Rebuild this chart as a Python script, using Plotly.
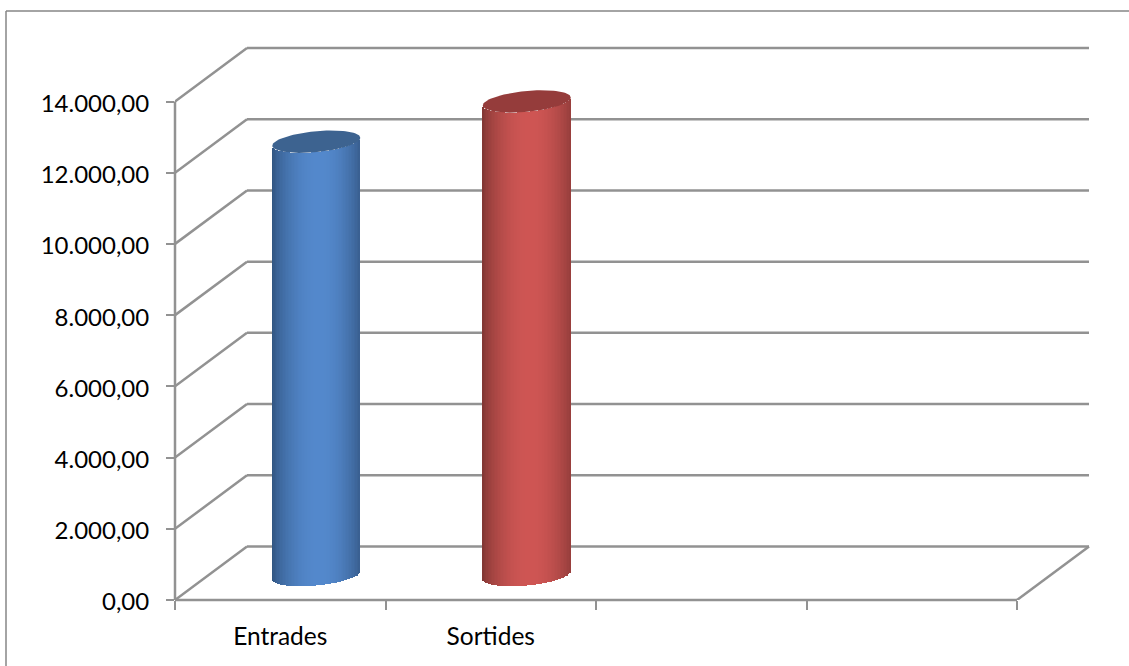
import numpy as np
import plotly.graph_objects as go

categories = ["Entrades", "Sortides"]
values = [12170, 13300]
tick_values = [0, 2000, 4000, 6000, 8000, 10000, 12000, 14000]
tick_labels = ["0,00", "2.000,00", "4.000,00", "6.000,00", "8.000,00", "10.000,00", "12.000,00", "14.000,00"]

# style
W, H = 1129, 666
X0, X_CAT = 175, 210.5          # px of axis start, px per category
Y0, Y_UNIT = 600, 498.5 / 14000 # px of zero, px per value unit
P_R, P_T = 1098, 40             # plot area limits
GRID = "#929292"
DX = 72 / X_CAT                 # wall depth (data units)
DY = 53.5 / Y_UNIT
CX = 0.5 + 36 / X_CAT           # bar centre offset in the category
BASE = 25 / Y_UNIT              # bar base offset
RX = 44 / X_CAT
ELL_B = 10.5 / Y_UNIT
ELL_T = 4 / Y_UNIT
styles = [
    dict(edgeL=(47, 82, 125), edgeR=(42, 72, 110), mid=(84, 137, 205), top="#3d6390"),
    dict(edgeL=(125, 53, 50), edgeR=(120, 50, 48), mid=(207, 86, 84), top="#953c3b"),
]

fig = go.Figure()
shapes = []


def line(x0, y0, x1, y1, xref="x", yref="y", color=GRID, width=2.5):
    shapes.append(dict(type="line", x0=x0, y0=y0, x1=x1, y1=y1, xref=xref, yref=yref,
                       layer="below", line=dict(color=color, width=width)))


for g in tick_values:
    line(DX, g + DY, 4 + DX, g + DY)
    line(0, g, DX, g + DY)
line(4, 0, 4 + DX, DY)
line(0, 0, 4, 0, yref="paper")
line(0, 0, 0, 14000, xref="paper")
# chart frame
shapes.append(dict(type="line", xref="paper", yref="paper", x0=(6 - X0) / (P_R - X0), x1=(W - X0) / (P_R - X0),
                   y0=(Y0 - 11) / (Y0 - P_T), y1=(Y0 - 11) / (Y0 - P_T), line=dict(color="#868686", width=1.5)))
shapes.append(dict(type="line", xref="paper", yref="paper", x0=(6 - X0) / (P_R - X0), x1=(6 - X0) / (P_R - X0),
                   y0=(Y0 - 11) / (Y0 - P_T), y1=(Y0 - H) / (Y0 - P_T), line=dict(color="#868686", width=1.5)))

n = 60
for i, (cat, val, st) in enumerate(zip(categories, values, styles)):
    cx = i + CX
    u = (np.arange(n) + 0.5) / n * 2 - 1
    xs = cx + RX * u
    arc = -ELL_B * np.sqrt(1 - u ** 2) + ELL_T * u
    cols = []
    for uu in u:
        f = np.cos((uu - 0.08) * np.pi / 2 / 1.08) ** 0.7
        e = st["edgeL"] if uu < 0 else st["edgeR"]
        cols.append("rgb(%d,%d,%d)" % tuple(e[k] + (st["mid"][k] - e[k]) * f for k in range(3)))
    fig.add_trace(go.Bar(x=xs, y=np.full(n, val), base=BASE + arc, width=2 * RX / n * 1.25,
                         marker=dict(color=cols, line=dict(width=0)), showlegend=False, name=cat,
                         hoverinfo="skip"))
    t = np.linspace(0, 2 * np.pi, 90)
    fig.add_trace(go.Scatter(x=cx + RX * np.cos(t),
                             y=BASE + val + ELL_B * np.sin(t) + ELL_T * np.cos(t),
                             mode="lines", fill="toself", fillcolor=st["top"],
                             line=dict(width=0, color=st["top"]), showlegend=False, name=cat,
                             hoverinfo="skip"))

fig.update_layout(
    width=W, height=H,
    margin=dict(l=X0, r=W - P_R, t=P_T, b=H - Y0, autoexpand=False),
    paper_bgcolor="white", plot_bgcolor="white",
    barmode="overlay", bargap=0, shapes=shapes,
    font=dict(family="Lato, Carlito, sans-serif", size=24, color="#000000"),
    xaxis=dict(range=[0, (P_R - X0) / X_CAT], showgrid=False, zeroline=False, showline=False,
               tickmode="array", tickvals=[0.5, 1.5], ticktext=categories,
               ticks="", ticklen=0, ticklabelstandoff=19,
               tickfont=dict(size=24.5),
               minor=dict(tickmode="array", tickvals=[0, 1, 2, 3, 4], ticks="outside", ticklen=9,
                          tickwidth=2, tickcolor=GRID, showgrid=False)),
    yaxis=dict(range=[0, (Y0 - P_T) / Y_UNIT], showgrid=False, zeroline=False, showline=False,
               tickmode="array", tickvals=tick_values, ticktext=tick_labels,
               ticks="outside", ticklen=8, tickwidth=2, tickcolor=GRID, ticklabelstandoff=12,
               ticklabelshift=2, tickfont=dict(size=24)),
)

fig.write_html("out.html", config=dict(displayModeBar=False),
               post_script="document.body.style.margin='0';document.documentElement.style.overflow='hidden';")
